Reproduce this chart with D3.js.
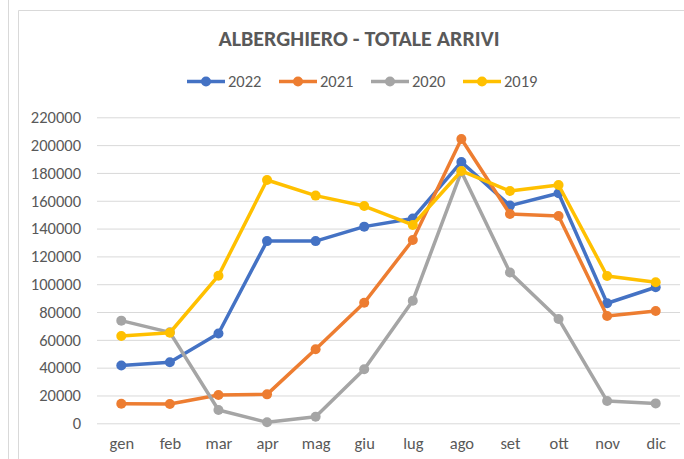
<!DOCTYPE html>
<html>
<head>
<meta charset="utf-8">
<script src="https://cdn.jsdelivr.net/npm/d3@7"></script>
<style>
  html, body { margin: 0; padding: 0; background: #fff; }
  svg { display: block; }
  text { font-family: "Carlito", "Liberation Sans", Arial, sans-serif; fill: #595959; }
</style>
</head>
<body>
<svg id="chart" width="684" height="459"></svg>
<script>
const months = ["gen","feb","mar","apr","mag","giu","lug","ago","set","ott","nov","dic"];
const seriesNames = ["2022","2021","2020","2019"];
const values2022 = [41500, 43900, 64600, 131000, 131000, 141400, 147300, 187900, 156500, 165400, 86300, 97800];
const values2021 = [14100, 13900, 20300, 20800, 53200, 86700, 131800, 204400, 150500, 149100, 77100, 80700];
const values2020 = [73800, 65400, 9600, 700, 4700, 38800, 88100, 180900, 108400, 75000, 16000, 14300];
const values2019 = [62800, 65100, 106100, 174900, 163700, 156200, 142600, 181400, 167000, 171300, 105900, 101400];
const yTicks = [0, 20000, 40000, 60000, 80000, 100000, 120000, 140000, 160000, 180000, 200000, 220000];
const colors = ["#4472C4", "#ED7D31", "#A5A5A5", "#FFC000"];
const title = "ALBERGHIERO - TOTALE ARRIVI";

const series = [values2022, values2021, values2020, values2019].map((v, i) => ({ name: seriesNames[i], values: v, color: colors[i] }));

const svg = d3.select("#chart");
const plotLeft = 97, plotRight = 680, plotTop = 117.3, plotBottom = 423.3;
const fs = 16.5;

// outer frame lines
svg.append("line").attr("x1", 8.5).attr("x2", 8.5).attr("y1", 0).attr("y2", 459).attr("stroke", "#D9D9D9").attr("stroke-width", 1);
svg.append("path").attr("d", "M18.5,459 V10.5 H684").attr("fill", "none").attr("stroke", "#D9D9D9").attr("stroke-width", 1);

const x = d3.scalePoint().domain(months).range([plotLeft, plotRight]).padding(0.5);
const y = d3.scaleLinear().domain([0, 220000]).range([plotBottom, plotTop]);

// y axis with gridlines
const gy = svg.append("g").attr("transform", `translate(${plotLeft},0)`)
  .call(d3.axisLeft(y).tickValues(yTicks).tickFormat(d3.format("d")).tickSize(-(plotRight - plotLeft)).tickPadding(16));
gy.select(".domain").remove();
gy.selectAll(".tick line").attr("stroke", "#D9D9D9").attr("stroke-width", 1);
gy.selectAll(".tick text").attr("font-size", fs).style("fill", "#595959");

// x axis labels
const gx = svg.append("g").attr("transform", `translate(0,${plotBottom})`)
  .call(d3.axisBottom(x).tickSize(0).tickPadding(14));
gx.select(".domain").remove();
gx.selectAll(".tick text").attr("font-size", fs).style("fill", "#595959");

// series
const line = d3.line().x((d, i) => x(months[i])).y(d => y(d));
series.forEach(s => {
  const g = svg.append("g");
  g.append("path").datum(s.values).attr("d", line)
    .attr("fill", "none").attr("stroke", s.color).attr("stroke-width", 3.5).attr("stroke-linejoin", "round");
  g.selectAll("circle").data(s.values).join("circle")
    .attr("cx", (d, i) => x(months[i])).attr("cy", d => y(d)).attr("r", 5)
    .attr("fill", s.color);
});

// title
svg.append("text").attr("x", 359).attr("y", 46).attr("text-anchor", "middle")
  .attr("font-size", 22).attr("font-weight", "bold").style("fill", "#595959").text(title);

// legend
const legendX = [187, 279, 371, 463];
series.forEach((s, i) => {
  const g = svg.append("g").attr("transform", `translate(${legendX[i]},81.5)`);
  g.append("line").attr("x1", 0).attr("x2", 38).attr("y1", 0).attr("y2", 0).attr("stroke", s.color).attr("stroke-width", 3.5);
  g.append("circle").attr("cx", 19).attr("cy", 0).attr("r", 5).attr("fill", s.color);
  g.append("text").attr("x", 41).attr("y", 5.5).attr("font-size", fs).style("fill", "#595959").text(s.name);
});
</script>
</body>
</html>
